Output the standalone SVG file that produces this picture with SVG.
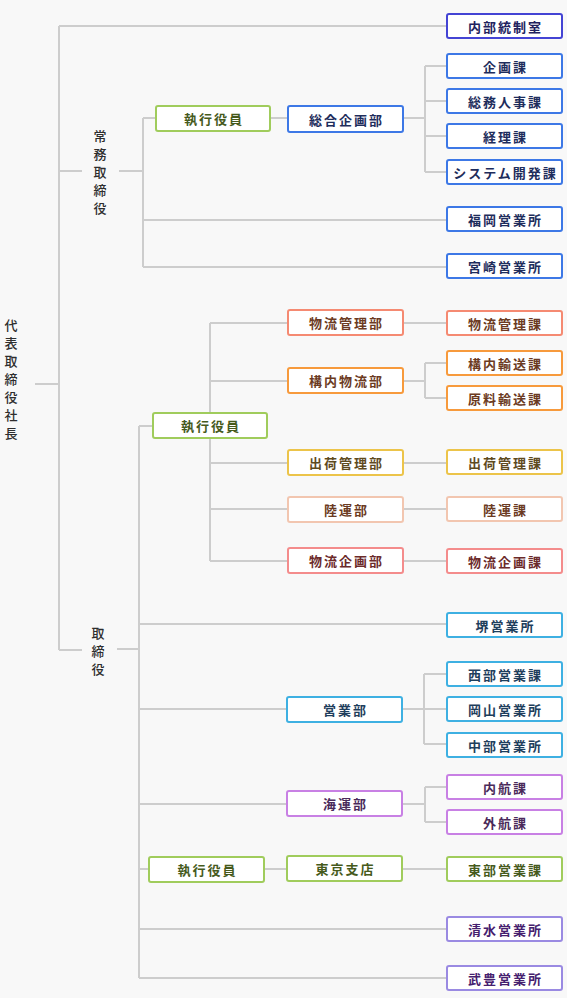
<svg xmlns="http://www.w3.org/2000/svg" width="567" height="998" viewBox="0 0 567 998">
<style>
.bg{fill:#f8f8f8}
.ln{stroke:#cdcdcd;stroke-width:2;fill:none}
.b{fill:#ffffff;stroke-width:2}
.t{font-family:"Noto Sans CJK JP","Noto Sans",sans-serif;font-size:13px;font-weight:700;letter-spacing:2px;text-anchor:middle;dominant-baseline:central}
.v{font-family:"Noto Sans CJK JP","Noto Sans",sans-serif;font-size:13px;font-weight:500;fill:#2e2e2e;text-anchor:middle;dominant-baseline:central}
.ind rect{stroke:#4444d4}.ind text{fill:#22225e}
.blu rect{stroke:#3d78e6}.blu text{fill:#1e2d5c}
.grn rect{stroke:#a0cc5c}.grn text{fill:#465a1c}
.sal rect{stroke:#f58a72}.sal text{fill:#6b3a22}
.org rect{stroke:#f79a3c}.org text{fill:#6b3a22}
.yel rect{stroke:#ecc44a}.yel text{fill:#5e4a1e}
.pch rect{stroke:#f2c6b0}.pch text{fill:#6b3a22}
.pnk rect{stroke:#f48c8c}.pnk text{fill:#6b2a2a}
.cyn rect{stroke:#3eb0e2}.cyn text{fill:#1e3e5c}
.vio rect{stroke:#c880e4}.vio text{fill:#4a2a5a}
.lav rect{stroke:#9a8ae2}.lav text{fill:#45206e}
</style>
<rect class="bg" x="0" y="0" width="567" height="998"/>
<g id="connectors" class="ln">
<path d="M59 26V650M59 26H447M59 171H82M119 171H143M143 118V267M143 118H156M270 118H288M403 118H425M425 66V172M425 66H447M425 101H447M425 136H447M425 172H447M143 220H447M143 267H447"/>
<path d="M35 384H59M59 650H82M117 649H139M139 426V978M139 426H153M210 323V561M210 323H288M210 381H288M210 463H288M210 509H288M210 561H288"/>
<path d="M403 323H447M403 381H425M425 363V398M425 363H447M425 398H447M403 463H447M403 509H447M403 561H447"/>
<path d="M139 624H447M139 709H287M402 709H424M424 674V744M424 674H447M424 709H447M424 744H447M139 804H287M402 804H425M425 787V822M425 787H447M425 822H447M139 869H149M264 869H287M402 869H447M139 929H447M139 978H447"/>
</g>
<g id="president"><text class="v" x="11" y="324">代</text><text class="v" x="11" y="342">表</text><text class="v" x="11" y="360">取</text><text class="v" x="11" y="378">締</text><text class="v" x="11" y="396">役</text><text class="v" x="11" y="414">社</text><text class="v" x="11" y="432">長</text></g>
<g id="senior-director"><text class="v" x="100" y="135">常</text><text class="v" x="100" y="153">務</text><text class="v" x="100" y="171">取</text><text class="v" x="100" y="189">締</text><text class="v" x="100" y="207">役</text></g>
<g id="director"><text class="v" x="98" y="632">取</text><text class="v" x="98" y="650">締</text><text class="v" x="98" y="668">役</text></g>

<g id="n-naibu" class="ind"><rect class="b" x="447" y="14" width="115" height="24" rx="2"/><text class="t" x="505.5" y="26">内部統制室</text></g>
<g id="n-exec1" class="grn"><rect class="b" x="156" y="106" width="114" height="25" rx="2"/><text class="t" x="214" y="118.5">執行役員</text></g>
<g id="n-sogo" class="blu"><rect class="b" x="288" y="106" width="115" height="26" rx="2"/><text class="t" x="346.5" y="119">総合企画部</text></g>
<g id="n-kikaku" class="blu"><rect class="b" x="447" y="54" width="115" height="24" rx="2"/><text class="t" x="505.5" y="66">企画課</text></g>
<g id="n-somu" class="blu"><rect class="b" x="447" y="89" width="115" height="24" rx="2"/><text class="t" x="505.5" y="101">総務人事課</text></g>
<g id="n-keiri" class="blu"><rect class="b" x="447" y="124" width="115" height="24" rx="2"/><text class="t" x="505.5" y="136">経理課</text></g>
<g id="n-system" class="blu"><rect class="b" x="447" y="160" width="115" height="24" rx="2"/><text class="t" x="505.5" y="172">システム開発課</text></g>
<g id="n-fukuoka" class="blu"><rect class="b" x="447" y="207" width="115" height="24" rx="2"/><text class="t" x="505.5" y="219">福岡営業所</text></g>
<g id="n-miyazaki" class="blu"><rect class="b" x="447" y="254" width="115" height="24" rx="2"/><text class="t" x="505.5" y="266">宮崎営業所</text></g>

<g id="n-exec2" class="grn"><rect class="b" x="153" y="413" width="114" height="25" rx="2"/><text class="t" x="211" y="425.5">執行役員</text></g>
<g id="n-butsuryu-kanri" class="sal"><rect class="b" x="288" y="310" width="115" height="25" rx="2"/><text class="t" x="346.5" y="322.5">物流管理部</text></g>
<g id="n-butsuryu-kanri-ka" class="sal"><rect class="b" x="447" y="311" width="115" height="24" rx="2"/><text class="t" x="505.5" y="323">物流管理課</text></g>
<g id="n-konai" class="org"><rect class="b" x="288" y="368" width="115" height="25" rx="2"/><text class="t" x="346.5" y="380.5">構内物流部</text></g>
<g id="n-konai-yuso" class="org"><rect class="b" x="447" y="351" width="115" height="24" rx="2"/><text class="t" x="505.5" y="363">構内輸送課</text></g>
<g id="n-genryo" class="org"><rect class="b" x="447" y="386" width="115" height="24" rx="2"/><text class="t" x="505.5" y="398">原料輸送課</text></g>
<g id="n-shukka" class="yel"><rect class="b" x="288" y="450" width="115" height="25" rx="2"/><text class="t" x="346.5" y="462.5">出荷管理部</text></g>
<g id="n-shukka-ka" class="yel"><rect class="b" x="447" y="450" width="115" height="24" rx="2"/><text class="t" x="505.5" y="462">出荷管理課</text></g>
<g id="n-rikuun" class="pch"><rect class="b" x="288" y="497" width="115" height="25" rx="2"/><text class="t" x="346.5" y="509.5">陸運部</text></g>
<g id="n-rikuun-ka" class="pch"><rect class="b" x="447" y="497" width="115" height="24" rx="2"/><text class="t" x="505.5" y="509">陸運課</text></g>
<g id="n-butsuryu-kikaku" class="pnk"><rect class="b" x="288" y="548" width="115" height="25" rx="2"/><text class="t" x="346.5" y="560.5">物流企画部</text></g>
<g id="n-butsuryu-kikaku-ka" class="pnk"><rect class="b" x="447" y="549" width="115" height="24" rx="2"/><text class="t" x="505.5" y="561">物流企画課</text></g>

<g id="n-sakai" class="cyn"><rect class="b" x="447" y="613" width="115" height="24" rx="2"/><text class="t" x="505.5" y="625">堺営業所</text></g>
<g id="n-eigyo" class="cyn"><rect class="b" x="287" y="697" width="115" height="25" rx="2"/><text class="t" x="345.5" y="709.5">営業部</text></g>
<g id="n-seibu" class="cyn"><rect class="b" x="447" y="662" width="115" height="24" rx="2"/><text class="t" x="505.5" y="674">西部営業課</text></g>
<g id="n-okayama" class="cyn"><rect class="b" x="447" y="697" width="115" height="24" rx="2"/><text class="t" x="505.5" y="709">岡山営業所</text></g>
<g id="n-chubu" class="cyn"><rect class="b" x="447" y="733" width="115" height="24" rx="2"/><text class="t" x="505.5" y="745">中部営業所</text></g>
<g id="n-kaiun" class="vio"><rect class="b" x="287" y="791" width="115" height="25" rx="2"/><text class="t" x="345.5" y="803.5">海運部</text></g>
<g id="n-naiko" class="vio"><rect class="b" x="447" y="775" width="115" height="24" rx="2"/><text class="t" x="505.5" y="787">内航課</text></g>
<g id="n-gaiko" class="vio"><rect class="b" x="447" y="810" width="115" height="24" rx="2"/><text class="t" x="505.5" y="822">外航課</text></g>
<g id="n-exec3" class="grn"><rect class="b" x="149" y="857" width="115" height="25" rx="2"/><text class="t" x="207.5" y="869.5">執行役員</text></g>
<g id="n-tokyo" class="grn"><rect class="b" x="287" y="856" width="115" height="25" rx="2"/><text class="t" x="345.5" y="868.5">東京支店</text></g>
<g id="n-tobu" class="grn"><rect class="b" x="447" y="857" width="115" height="24" rx="2"/><text class="t" x="505.5" y="869">東部営業課</text></g>
<g id="n-shimizu" class="lav"><rect class="b" x="447" y="917" width="115" height="24" rx="2"/><text class="t" x="505.5" y="929">清水営業所</text></g>
<g id="n-taketoyo" class="lav"><rect class="b" x="447" y="966" width="115" height="24" rx="2"/><text class="t" x="505.5" y="978">武豊営業所</text></g>
</svg>
